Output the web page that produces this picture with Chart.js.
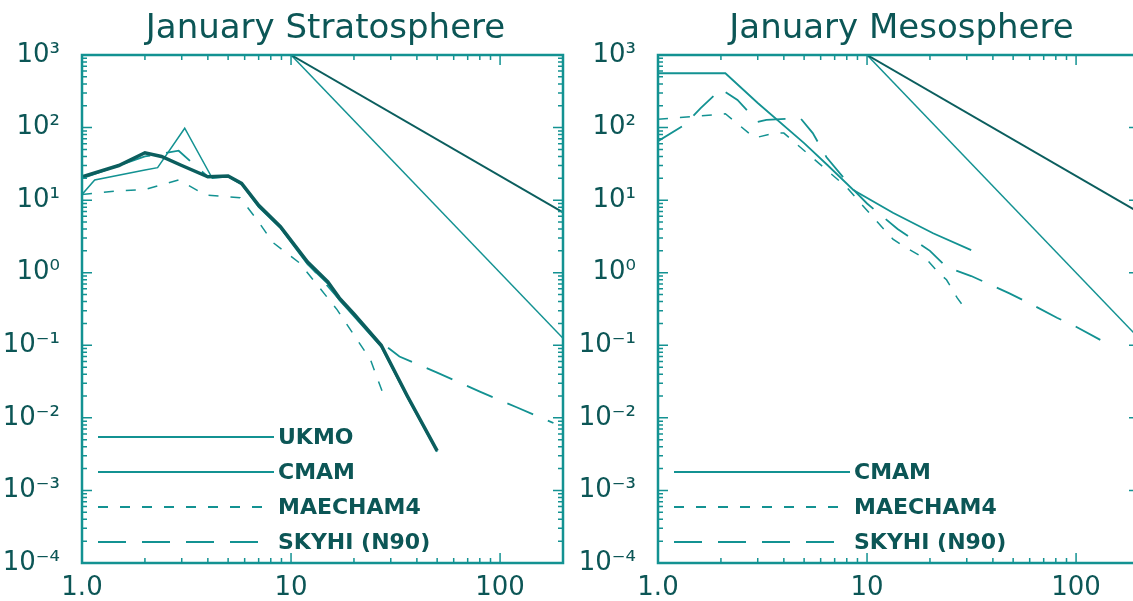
<!DOCTYPE html>
<html>
<head>
<meta charset="utf-8">
<script src="https://cdn.jsdelivr.net/npm/chart.js"></script>
<style>
  html, body { margin: 0; padding: 0; background: #fff; overflow: hidden; }
  body { width: 1133px; height: 601px; position: relative; }
  canvas { position: absolute; top: 0; }
  #strat { left: 0px; }
  #meso { left: 576px; }
</style>
</head>
<body>
<canvas id="strat" width="645" height="601"></canvas>
<canvas id="meso" width="645" height="601"></canvas>
<script>
// axis ticks
const xTickValues = [1, 10, 100];
const xTickLabels = ['1.0', '10', '100'];
const yTickValues = [1e-4, 1e-3, 1e-2, 1e-1, 1, 10, 100, 1000];
const yTickLabels = ['10⁻⁴', '10⁻³', '10⁻²', '10⁻¹', '10⁰', '10¹', '10²', '10³'];

// reference slopes starting at k=10
const refX = [10, 200];
const refSlow = [1000, 6.8];
const refFast = [1000, 0.125];

// January Stratosphere
const strUkmoX = [1, 1.5, 2, 2.4, 3, 4, 5, 5.8, 7, 8.9, 12, 15, 17, 20, 27, 36, 50];
const strUkmoY = [21, 30, 45, 40, 30, 21, 21.5, 17, 8.5, 4.3, 1.4, 0.75, 0.45, 0.27, 0.1, 0.02, 0.0035];
const strCmamX = [1, 1.15, 2, 2.3, 3.1, 4.2, 5, 5.8, 7, 8.9, 12, 15, 17, 20, 27, 36, 50];
const strCmamY = [12, 19, 26, 28, 98, 20, 21, 16.5, 8, 4.1, 1.3, 0.7, 0.42, 0.25, 0.095, 0.019, 0.0034];
const strMaeX = [1, 1.5, 2, 2.9, 3.9, 5.7, 6.9, 8.2, 11, 16.6, 24, 28];
const strMaeY = [12, 13.5, 14, 19, 11.8, 10.8, 5.3, 2.6, 1.36, 0.31, 0.063, 0.019];
const strSkyX = [1, 2, 2.9, 4, 5, 5.8, 7, 8.9, 12, 17, 25, 33, 50, 80, 120, 180];
const strSkyY = [20, 40, 48, 21, 21, 17, 8.3, 4.2, 1.35, 0.43, 0.13, 0.07, 0.042, 0.023, 0.014, 0.0085];

// January Mesosphere
const mesCmamX = [1, 2.1, 3, 5, 6.5, 8.6, 13.3, 20.7, 31.5];
const mesCmamY = [560, 560, 218, 61, 30, 13.8, 6.7, 3.5, 2.05];
const mesMaeX = [1, 1.6, 2.1, 2.9, 3.6, 4, 8, 9.5, 13.3, 15, 19.4, 22, 24, 27, 29];
const mesMaeY = [130, 145, 155, 72, 84, 84, 15, 8.5, 2.9, 2.3, 1.5, 1.0, 0.8, 0.45, 0.34];
const mesSkyX = [1, 1.35, 1.6, 2, 2.4, 3, 3.3, 4.8, 5.5, 6.4, 8.6, 10, 14, 20, 24, 31.5, 48, 62, 81, 100, 137];
const mesSkyY = [65, 110, 186, 340, 240, 120, 128, 135, 84, 39, 14, 9, 4, 2.0, 1.2, 0.9, 0.52, 0.36, 0.24, 0.18, 0.11];

const teal = '#139292';
const darkTeal = '#0b5e5e';
const textColor = '#0c5656';
const fontFamily = "'DejaVu Sans', sans-serif";

function pts(xs, ys) {
  return xs.map(function (x, i) { return { x: x, y: ys[i] }; });
}

function isMajor(v) {
  var l = Math.log10(v);
  return Math.abs(l - Math.round(l)) < 1e-9;
}

function logTicks(min, max) {
  var out = [];
  for (var e = Math.floor(Math.log10(min)); e <= Math.ceil(Math.log10(max)); e++) {
    for (var m = 1; m < 10; m++) {
      var v = m * Math.pow(10, e);
      if (v >= min * 0.9999 && v <= max * 1.0001) out.push({ value: v, major: m === 1 });
    }
  }
  return out;
}

function labelFor(values, labels, v) {
  for (var i = 0; i < values.length; i++) {
    if (Math.abs(values[i] - v) / values[i] < 1e-6) return labels[i];
  }
  return '';
}

// title, box, inward ticks and the in-plot legend
const boxPlugin = {
  id: 'boxTicks',
  afterDraw(chart) {
    const ctx = chart.ctx, a = chart.chartArea;
    const xs = chart.scales.x, ys = chart.scales.y;
    ctx.save();
    ctx.fillStyle = textColor;
    ctx.font = '34px ' + fontFamily;
    ctx.textAlign = 'center';
    ctx.textBaseline = 'middle';
    ctx.fillText(chart.options.plugins.boxTicks.title, (a.left + a.right) / 2 + 3, 29);
    ctx.textAlign = 'left';

    ctx.strokeStyle = teal;
    ctx.lineWidth = 1.5;
    ctx.beginPath();
    xs.ticks.forEach(function (t) {
      var px = xs.getPixelForValue(t.value);
      var len = isMajor(t.value) ? 10 : 5;
      ctx.moveTo(px, a.bottom); ctx.lineTo(px, a.bottom - len);
      ctx.moveTo(px, a.top); ctx.lineTo(px, a.top + len);
    });
    ys.ticks.forEach(function (t) {
      var py = ys.getPixelForValue(t.value);
      var len = isMajor(t.value) ? 10 : 5;
      ctx.moveTo(a.left, py); ctx.lineTo(a.left + len, py);
      ctx.moveTo(a.right, py); ctx.lineTo(a.right - len, py);
    });
    ctx.stroke();
    ctx.lineWidth = 2.5;
    ctx.strokeRect(a.left, a.top, a.right - a.left, a.bottom - a.top);

    const items = chart.data.datasets.filter(function (d) { return d.label; });
    ctx.font = 'bold 22px ' + fontFamily;
    items.forEach(function (d, i) {
      var y = a.bottom - 21 - 35 * (items.length - 1 - i);
      ctx.setLineDash(d.borderDash || []);
      ctx.lineWidth = 2;
      ctx.strokeStyle = teal;
      ctx.beginPath();
      ctx.moveTo(a.left + 16, y);
      ctx.lineTo(a.left + 192, y);
      ctx.stroke();
      ctx.setLineDash([]);
      ctx.fillStyle = textColor;
      ctx.fillText(d.label, a.left + 196, y + 1);
    });
    ctx.restore();
  }
};

function refSets() {
  return [
    { data: pts(refX, refSlow), borderColor: darkTeal, borderWidth: 2 },
    { data: pts(refX, refFast), borderColor: teal, borderWidth: 1.5 }
  ];
}

function makeChart(id, title, sets) {
  return new Chart(document.getElementById(id), {
    type: 'line',
    data: { datasets: refSets().concat(sets) },
    options: {
      responsive: false,
      animation: false,
      devicePixelRatio: 1,
      layout: { padding: { left: 0, right: 82, top: 55, bottom: 0 } },
      elements: { point: { radius: 0 }, line: { tension: 0, borderCapStyle: 'butt' } },
      plugins: {
        legend: { display: false },
        tooltip: { enabled: false },
        title: { display: false },
        boxTicks: { title: title }
      },
      scales: {
        x: {
          type: 'logarithmic',
          min: 1, max: 200,
          afterBuildTicks: function (s) { s.ticks = logTicks(1, 200); },
          afterFit: function (s) { s.height = 38; },
          grid: { display: false, drawTicks: false },
          border: { display: false },
          ticks: {
            autoSkip: false, maxRotation: 0, minRotation: 0, padding: 10,
            color: textColor,
            font: { family: fontFamily, size: 26 },
            callback: function (v) { return labelFor(xTickValues, xTickLabels, v); }
          }
        },
        y: {
          type: 'logarithmic',
          min: 1e-4, max: 1e3,
          afterBuildTicks: function (s) { s.ticks = logTicks(1e-4, 1e3); },
          afterFit: function (s) { s.width = 82; },
          grid: { display: false, drawTicks: false },
          border: { display: false },
          ticks: {
            autoSkip: false, padding: 22,
            color: textColor,
            font: { family: fontFamily, size: 26 },
            callback: function (v) { return labelFor(yTickValues, yTickLabels, v); }
          }
        }
      }
    },
    plugins: [boxPlugin]
  });
}

makeChart('strat', 'January Stratosphere', [
  { label: 'UKMO', data: pts(strUkmoX, strUkmoY), borderColor: darkTeal, borderWidth: 3.5 },
  { label: 'CMAM', data: pts(strCmamX, strCmamY), borderColor: teal, borderWidth: 1.5 },
  { label: 'MAECHAM4', data: pts(strMaeX, strMaeY), borderColor: teal, borderWidth: 1.5, borderDash: [10, 12] },
  { label: 'SKYHI (N90)', data: pts(strSkyX, strSkyY), borderColor: teal, borderWidth: 1.8, borderDash: [28, 16] }
]);

makeChart('meso', 'January Mesosphere', [
  { label: 'CMAM', data: pts(mesCmamX, mesCmamY), borderColor: teal, borderWidth: 1.8 },
  { label: 'MAECHAM4', data: pts(mesMaeX, mesMaeY), borderColor: teal, borderWidth: 1.5, borderDash: [10, 12] },
  { label: 'SKYHI (N90)', data: pts(mesSkyX, mesSkyY), borderColor: teal, borderWidth: 1.8, borderDash: [28, 16] }
]);
</script>
</body>
</html>
